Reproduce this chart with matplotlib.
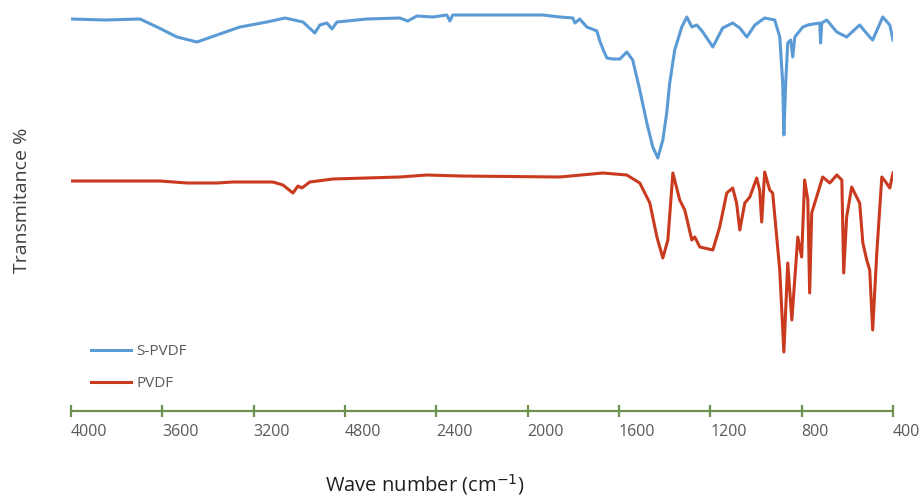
import matplotlib
matplotlib.use('Agg')
import matplotlib.pyplot as plt
from matplotlib.ticker import FixedLocator, FixedFormatter

# wave numbers (cm-1) and transmittance (arbitrary, offset)
wn_spvdf = [4000, 3850, 3698, 3623, 3536, 3448, 3361, 3260, 3142, 3063, 2984, 2932, 2910,
            2879, 2857, 2835, 2704, 2560, 2525, 2485, 2415, 2354, 2341, 2328, 2297,
            1934, 1859, 1802, 1793, 1772, 1741, 1697, 1684, 1667, 1653, 1627, 1596,
            1566, 1540, 1509, 1478, 1452, 1430, 1408, 1391, 1378, 1356, 1325, 1303,
            1281, 1259, 1233, 1189, 1146, 1102, 1071, 1040, 1005, 962, 918, 896,
            883, 878, 870, 861, 848, 839, 830, 795, 773, 721, 717, 712, 690, 646,
            603, 546, 502, 489, 445, 414, 400]
t_spvdf = [392, 391, 392, 384, 374, 369, 376, 384, 389, 393, 389, 378, 386,
           388, 382, 389, 392, 393, 390, 395, 394, 396, 390, 396, 396,
           396, 394, 393, 388, 392, 384, 380, 370, 360, 353, 352, 352,
           359, 351, 321, 288, 264, 253, 271, 298, 328, 361, 384, 394,
           384, 386, 379, 364, 383, 388, 383, 374, 386, 393, 391, 374,
           328, 276, 328, 368, 371, 354, 374, 384, 386, 388, 368, 388, 391, 379,
           374, 386, 374, 371, 394, 386, 371]

wn_pvdf = [4000, 3610, 3492, 3361, 3291, 3116, 3072, 3028, 3006, 2989, 2954, 2853,
           2560, 2441, 2297, 1859, 1671, 1566, 1509, 1465, 1434, 1408, 1386, 1364,
           1334, 1312, 1281, 1268, 1246, 1189, 1159, 1128, 1102, 1085, 1071, 1049,
           1027, 997, 984, 975, 962, 940, 927, 896, 878, 861, 843, 817, 800, 787,
           773, 765, 756, 708, 677, 646, 624, 616, 603, 581, 546, 532, 515, 502,
           489, 471, 449, 432, 414, 400]
t_pvdf = [230, 230, 228, 228, 229, 229, 226, 218, 225, 223, 229, 232,
          234, 236, 235, 234, 238, 236, 228, 208, 174, 153, 171, 238,
          211, 201, 171, 174, 164, 161, 184, 218, 223, 208, 181, 208,
          214, 233, 221, 189, 239, 221, 218, 141, 59, 148, 91, 174, 154, 231,
          211, 118, 198, 234, 228, 236, 231, 138, 194, 224, 208, 168, 151, 141,
          81, 158, 234, 229, 223, 238]

x_ticks = [4000, 3600, 3200, 2800, 2400, 2000, 1600, 1200, 800, 400]
x_labels = ['4000', '3600', '3200', '4800', '2400', '2000', '1600', '1200', '800', '400']

plt.rcParams['font.family'] = ['Open Sans', 'DejaVu Sans']

fig = plt.figure(figsize=(9.21, 4.98), dpi=100)
ax = fig.add_axes([71/921, 87/498, (893-71)/921, 411/498])

ax.plot(wn_spvdf, t_spvdf, color='#5B9BD5', lw=2.2, label='S-PVDF')
ax.plot(wn_pvdf, t_pvdf, color='#C93A1E', lw=2.2, label='PVDF')

ax.set_xlim(4000, 400)
ax.set_ylim(0, 411)
for s in ['top', 'right', 'left']:
    ax.spines[s].set_visible(False)
ax.spines['bottom'].set_color('#6E9150')
ax.spines['bottom'].set_linewidth(1.6)
ax.set_yticks([])
ax.xaxis.set_major_locator(FixedLocator(x_ticks))
ax.xaxis.set_major_formatter(FixedFormatter(x_labels))
ax.tick_params(axis='x', direction='inout', length=9, width=1.6, color='#6E9150',
               labelsize=11.5, labelcolor='#595959', pad=5)
for lab in ax.get_xticklabels():
    lab.set_horizontalalignment('left')

ax.legend(loc='upper left', bbox_to_anchor=(20/822, 67/411), frameon=False,
          fontsize=11, labelcolor='#595959', handlelength=2.6, handletextpad=0.35,
          labelspacing=1.12, borderpad=0, borderaxespad=0)

fig.text(22/921, 1 - 200/498, 'Transmitance %', rotation=90, ha='center', va='center',
         fontsize=14, color='#404040')
fig.text(425/921, 1 - 485/498, 'Wave number (cm$^{-1}$)', ha='center', va='center',
         fontsize=14.5, color='#202020')

fig.savefig('out.png', dpi=100)
